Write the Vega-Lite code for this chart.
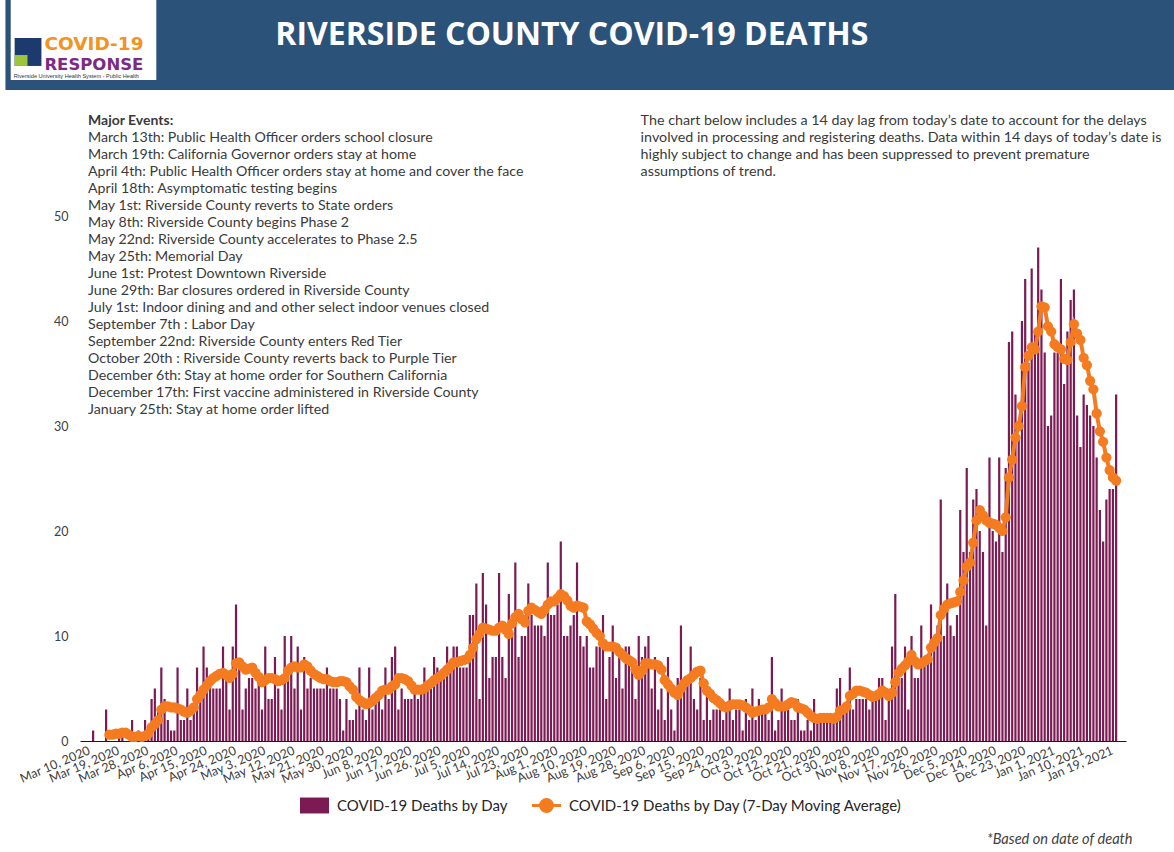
{
  "$schema": "https://vega.github.io/schema/vega-lite/v6.json",
  "width": 1046,
  "height": 651,
  "autosize": "none",
  "padding": {"left": 80, "top": 90, "right": 48, "bottom": 111},
  "background": "white",
  "config": {"view": {"stroke": null}, "font": "Lato", "text": {"font": "Lato"}},
  "data": {
    "values": [
      {"date":"2020-03-10","deaths":0,"avg":null},
      {"date":"2020-03-11","deaths":0,"avg":null},
      {"date":"2020-03-12","deaths":1,"avg":null},
      {"date":"2020-03-13","deaths":0,"avg":null},
      {"date":"2020-03-14","deaths":0,"avg":null},
      {"date":"2020-03-15","deaths":0,"avg":null},
      {"date":"2020-03-16","deaths":3,"avg":null},
      {"date":"2020-03-17","deaths":0,"avg":0.6},
      {"date":"2020-03-18","deaths":0,"avg":0.6},
      {"date":"2020-03-19","deaths":0,"avg":0.7},
      {"date":"2020-03-20","deaths":1,"avg":0.7},
      {"date":"2020-03-21","deaths":1,"avg":0.8},
      {"date":"2020-03-22","deaths":0,"avg":0.8},
      {"date":"2020-03-23","deaths":0,"avg":0.6},
      {"date":"2020-03-24","deaths":2,"avg":0.4},
      {"date":"2020-03-25","deaths":0,"avg":0.4},
      {"date":"2020-03-26","deaths":1,"avg":0.5},
      {"date":"2020-03-27","deaths":0,"avg":0.4},
      {"date":"2020-03-28","deaths":2,"avg":0.5},
      {"date":"2020-03-29","deaths":1,"avg":0.7},
      {"date":"2020-03-30","deaths":4,"avg":1.3},
      {"date":"2020-03-31","deaths":5,"avg":1.6},
      {"date":"2020-04-01","deaths":3,"avg":2.0},
      {"date":"2020-04-02","deaths":7,"avg":3.0},
      {"date":"2020-04-03","deaths":4,"avg":3.3},
      {"date":"2020-04-04","deaths":2,"avg":3.3},
      {"date":"2020-04-05","deaths":1,"avg":3.2},
      {"date":"2020-04-06","deaths":1,"avg":3.2},
      {"date":"2020-04-07","deaths":7,"avg":3.1},
      {"date":"2020-04-08","deaths":2,"avg":3.0},
      {"date":"2020-04-09","deaths":2,"avg":2.8},
      {"date":"2020-04-10","deaths":5,"avg":2.7},
      {"date":"2020-04-11","deaths":2,"avg":2.9},
      {"date":"2020-04-12","deaths":3,"avg":3.2},
      {"date":"2020-04-13","deaths":7,"avg":4.0},
      {"date":"2020-04-14","deaths":4,"avg":4.4},
      {"date":"2020-04-15","deaths":9,"avg":4.9},
      {"date":"2020-04-16","deaths":7,"avg":5.3},
      {"date":"2020-04-17","deaths":6,"avg":5.7},
      {"date":"2020-04-18","deaths":5,"avg":6.0},
      {"date":"2020-04-19","deaths":5,"avg":6.2},
      {"date":"2020-04-20","deaths":5,"avg":6.4},
      {"date":"2020-04-21","deaths":9,"avg":6.5},
      {"date":"2020-04-22","deaths":6,"avg":6.3},
      {"date":"2020-04-23","deaths":3,"avg":6.0},
      {"date":"2020-04-24","deaths":9,"avg":6.4},
      {"date":"2020-04-25","deaths":13,"avg":7.4},
      {"date":"2020-04-26","deaths":7,"avg":7.5},
      {"date":"2020-04-27","deaths":3,"avg":7.1},
      {"date":"2020-04-28","deaths":5,"avg":6.8},
      {"date":"2020-04-29","deaths":6,"avg":6.9},
      {"date":"2020-04-30","deaths":6,"avg":7.0},
      {"date":"2020-05-01","deaths":5,"avg":6.5},
      {"date":"2020-05-02","deaths":6,"avg":6.1},
      {"date":"2020-05-03","deaths":3,"avg":5.6},
      {"date":"2020-05-04","deaths":9,"avg":5.8},
      {"date":"2020-05-05","deaths":4,"avg":6.0},
      {"date":"2020-05-06","deaths":4,"avg":6.0},
      {"date":"2020-05-07","deaths":8,"avg":5.9},
      {"date":"2020-05-08","deaths":5,"avg":5.7},
      {"date":"2020-05-09","deaths":3,"avg":5.8},
      {"date":"2020-05-10","deaths":10,"avg":6.0},
      {"date":"2020-05-11","deaths":6,"avg":6.7},
      {"date":"2020-05-12","deaths":10,"avg":7.0},
      {"date":"2020-05-13","deaths":5,"avg":7.1},
      {"date":"2020-05-14","deaths":9,"avg":7.0},
      {"date":"2020-05-15","deaths":3,"avg":7.0},
      {"date":"2020-05-16","deaths":8,"avg":7.3},
      {"date":"2020-05-17","deaths":5,"avg":7.1},
      {"date":"2020-05-18","deaths":6,"avg":6.7},
      {"date":"2020-05-19","deaths":5,"avg":6.4},
      {"date":"2020-05-20","deaths":5,"avg":6.2},
      {"date":"2020-05-21","deaths":5,"avg":6.0},
      {"date":"2020-05-22","deaths":5,"avg":5.9},
      {"date":"2020-05-23","deaths":7,"avg":5.9},
      {"date":"2020-05-24","deaths":5,"avg":5.7},
      {"date":"2020-05-25","deaths":5,"avg":5.6},
      {"date":"2020-05-26","deaths":5,"avg":5.6},
      {"date":"2020-05-27","deaths":4,"avg":5.7},
      {"date":"2020-05-28","deaths":1,"avg":5.7},
      {"date":"2020-05-29","deaths":4,"avg":5.6},
      {"date":"2020-05-30","deaths":2,"avg":5.2},
      {"date":"2020-05-31","deaths":2,"avg":4.9},
      {"date":"2020-06-01","deaths":3,"avg":4.2},
      {"date":"2020-06-02","deaths":7,"avg":3.9},
      {"date":"2020-06-03","deaths":3,"avg":3.7},
      {"date":"2020-06-04","deaths":2,"avg":3.5},
      {"date":"2020-06-05","deaths":7,"avg":3.6},
      {"date":"2020-06-06","deaths":3,"avg":3.8},
      {"date":"2020-06-07","deaths":4,"avg":4.1},
      {"date":"2020-06-08","deaths":4,"avg":4.4},
      {"date":"2020-06-09","deaths":3,"avg":4.8},
      {"date":"2020-06-10","deaths":7,"avg":4.9},
      {"date":"2020-06-11","deaths":4,"avg":4.9},
      {"date":"2020-06-12","deaths":8,"avg":5.2},
      {"date":"2020-06-13","deaths":9,"avg":5.4},
      {"date":"2020-06-14","deaths":3,"avg":6.0},
      {"date":"2020-06-15","deaths":5,"avg":6.0},
      {"date":"2020-06-16","deaths":4,"avg":5.9},
      {"date":"2020-06-17","deaths":4,"avg":5.7},
      {"date":"2020-06-18","deaths":4,"avg":5.3},
      {"date":"2020-06-19","deaths":5,"avg":4.9},
      {"date":"2020-06-20","deaths":4,"avg":4.9},
      {"date":"2020-06-21","deaths":5,"avg":4.9},
      {"date":"2020-06-22","deaths":7,"avg":5.0},
      {"date":"2020-06-23","deaths":5,"avg":5.3},
      {"date":"2020-06-24","deaths":5,"avg":5.5},
      {"date":"2020-06-25","deaths":8,"avg":5.8},
      {"date":"2020-06-26","deaths":7,"avg":6.0},
      {"date":"2020-06-27","deaths":6,"avg":6.2},
      {"date":"2020-06-28","deaths":6,"avg":6.5},
      {"date":"2020-06-29","deaths":9,"avg":6.8},
      {"date":"2020-06-30","deaths":7,"avg":7.1},
      {"date":"2020-07-01","deaths":9,"avg":7.5},
      {"date":"2020-07-02","deaths":9,"avg":7.5},
      {"date":"2020-07-03","deaths":7,"avg":7.6},
      {"date":"2020-07-04","deaths":7,"avg":7.7},
      {"date":"2020-07-05","deaths":7,"avg":7.8},
      {"date":"2020-07-06","deaths":12,"avg":8.2},
      {"date":"2020-07-07","deaths":12,"avg":8.9},
      {"date":"2020-07-08","deaths":15,"avg":9.7},
      {"date":"2020-07-09","deaths":4,"avg":10.2},
      {"date":"2020-07-10","deaths":16,"avg":10.8},
      {"date":"2020-07-11","deaths":13,"avg":10.7},
      {"date":"2020-07-12","deaths":6,"avg":10.6},
      {"date":"2020-07-13","deaths":8,"avg":10.5},
      {"date":"2020-07-14","deaths":8,"avg":10.5},
      {"date":"2020-07-15","deaths":16,"avg":10.8},
      {"date":"2020-07-16","deaths":8,"avg":11.0},
      {"date":"2020-07-17","deaths":6,"avg":10.6},
      {"date":"2020-07-18","deaths":14,"avg":10.2},
      {"date":"2020-07-19","deaths":10,"avg":11.2},
      {"date":"2020-07-20","deaths":17,"avg":11.8},
      {"date":"2020-07-21","deaths":8,"avg":12.1},
      {"date":"2020-07-22","deaths":10,"avg":11.6},
      {"date":"2020-07-23","deaths":10,"avg":11.3},
      {"date":"2020-07-24","deaths":15,"avg":12.4},
      {"date":"2020-07-25","deaths":12,"avg":12.7},
      {"date":"2020-07-26","deaths":11,"avg":12.5},
      {"date":"2020-07-27","deaths":11,"avg":12.3},
      {"date":"2020-07-28","deaths":11,"avg":12.1},
      {"date":"2020-07-29","deaths":10,"avg":12.5},
      {"date":"2020-07-30","deaths":17,"avg":13.0},
      {"date":"2020-07-31","deaths":12,"avg":13.3},
      {"date":"2020-08-01","deaths":12,"avg":13.3},
      {"date":"2020-08-02","deaths":13,"avg":13.6},
      {"date":"2020-08-03","deaths":19,"avg":14.0},
      {"date":"2020-08-04","deaths":10,"avg":13.8},
      {"date":"2020-08-05","deaths":10,"avg":13.4},
      {"date":"2020-08-06","deaths":11,"avg":12.9},
      {"date":"2020-08-07","deaths":12,"avg":12.7},
      {"date":"2020-08-08","deaths":17,"avg":12.9},
      {"date":"2020-08-09","deaths":10,"avg":12.8},
      {"date":"2020-08-10","deaths":9,"avg":12.7},
      {"date":"2020-08-11","deaths":10,"avg":11.4},
      {"date":"2020-08-12","deaths":7,"avg":11.1},
      {"date":"2020-08-13","deaths":7,"avg":10.7},
      {"date":"2020-08-14","deaths":9,"avg":10.3},
      {"date":"2020-08-15","deaths":9,"avg":10.0},
      {"date":"2020-08-16","deaths":12,"avg":9.3},
      {"date":"2020-08-17","deaths":4,"avg":9.0},
      {"date":"2020-08-18","deaths":8,"avg":9.0},
      {"date":"2020-08-19","deaths":11,"avg":9.0},
      {"date":"2020-08-20","deaths":6,"avg":8.9},
      {"date":"2020-08-21","deaths":8,"avg":8.5},
      {"date":"2020-08-22","deaths":5,"avg":8.2},
      {"date":"2020-08-23","deaths":9,"avg":7.9},
      {"date":"2020-08-24","deaths":9,"avg":7.7},
      {"date":"2020-08-25","deaths":8,"avg":7.5},
      {"date":"2020-08-26","deaths":4,"avg":6.8},
      {"date":"2020-08-27","deaths":10,"avg":6.3},
      {"date":"2020-08-28","deaths":8,"avg":6.7},
      {"date":"2020-08-29","deaths":9,"avg":7.4},
      {"date":"2020-08-30","deaths":10,"avg":7.4},
      {"date":"2020-08-31","deaths":5,"avg":7.3},
      {"date":"2020-09-01","deaths":8,"avg":7.3},
      {"date":"2020-09-02","deaths":3,"avg":7.2},
      {"date":"2020-09-03","deaths":5,"avg":6.8},
      {"date":"2020-09-04","deaths":2,"avg":5.8},
      {"date":"2020-09-05","deaths":8,"avg":5.4},
      {"date":"2020-09-06","deaths":3,"avg":5.0},
      {"date":"2020-09-07","deaths":1,"avg":4.6},
      {"date":"2020-09-08","deaths":6,"avg":4.4},
      {"date":"2020-09-09","deaths":11,"avg":5.0},
      {"date":"2020-09-10","deaths":5,"avg":5.5},
      {"date":"2020-09-11","deaths":6,"avg":5.8},
      {"date":"2020-09-12","deaths":9,"avg":6.0},
      {"date":"2020-09-13","deaths":4,"avg":6.3},
      {"date":"2020-09-14","deaths":3,"avg":6.6},
      {"date":"2020-09-15","deaths":6,"avg":6.7},
      {"date":"2020-09-16","deaths":2,"avg":5.5},
      {"date":"2020-09-17","deaths":5,"avg":4.8},
      {"date":"2020-09-18","deaths":2,"avg":4.5},
      {"date":"2020-09-19","deaths":3,"avg":4.1},
      {"date":"2020-09-20","deaths":3,"avg":3.9},
      {"date":"2020-09-21","deaths":3,"avg":3.6},
      {"date":"2020-09-22","deaths":2,"avg":3.3},
      {"date":"2020-09-23","deaths":3,"avg":3.2},
      {"date":"2020-09-24","deaths":5,"avg":3.4},
      {"date":"2020-09-25","deaths":2,"avg":3.5},
      {"date":"2020-09-26","deaths":3,"avg":3.5},
      {"date":"2020-09-27","deaths":3,"avg":3.5},
      {"date":"2020-09-28","deaths":1,"avg":3.4},
      {"date":"2020-09-29","deaths":4,"avg":3.2},
      {"date":"2020-09-30","deaths":2,"avg":3.0},
      {"date":"2020-10-01","deaths":5,"avg":2.7},
      {"date":"2020-10-02","deaths":2,"avg":2.8},
      {"date":"2020-10-03","deaths":4,"avg":2.9},
      {"date":"2020-10-04","deaths":3,"avg":3.0},
      {"date":"2020-10-05","deaths":3,"avg":3.0},
      {"date":"2020-10-06","deaths":2,"avg":3.2},
      {"date":"2020-10-07","deaths":8,"avg":4.0},
      {"date":"2020-10-08","deaths":1,"avg":3.6},
      {"date":"2020-10-09","deaths":2,"avg":3.3},
      {"date":"2020-10-10","deaths":5,"avg":3.3},
      {"date":"2020-10-11","deaths":3,"avg":3.3},
      {"date":"2020-10-12","deaths":3,"avg":3.5},
      {"date":"2020-10-13","deaths":2,"avg":3.7},
      {"date":"2020-10-14","deaths":2,"avg":3.6},
      {"date":"2020-10-15","deaths":4,"avg":3.2},
      {"date":"2020-10-16","deaths":1,"avg":3.1},
      {"date":"2020-10-17","deaths":1,"avg":3.0},
      {"date":"2020-10-18","deaths":2,"avg":2.7},
      {"date":"2020-10-19","deaths":1,"avg":2.4},
      {"date":"2020-10-20","deaths":4,"avg":2.2},
      {"date":"2020-10-21","deaths":2,"avg":2.1},
      {"date":"2020-10-22","deaths":2,"avg":2.2},
      {"date":"2020-10-23","deaths":2,"avg":2.2},
      {"date":"2020-10-24","deaths":2,"avg":2.2},
      {"date":"2020-10-25","deaths":2,"avg":2.2},
      {"date":"2020-10-26","deaths":2,"avg":2.1},
      {"date":"2020-10-27","deaths":5,"avg":2.3},
      {"date":"2020-10-28","deaths":6,"avg":2.9},
      {"date":"2020-10-29","deaths":3,"avg":3.0},
      {"date":"2020-10-30","deaths":3,"avg":3.3},
      {"date":"2020-10-31","deaths":7,"avg":4.3},
      {"date":"2020-11-01","deaths":3,"avg":4.5},
      {"date":"2020-11-02","deaths":4,"avg":4.8},
      {"date":"2020-11-03","deaths":4,"avg":4.8},
      {"date":"2020-11-04","deaths":4,"avg":4.7},
      {"date":"2020-11-05","deaths":4,"avg":4.6},
      {"date":"2020-11-06","deaths":3,"avg":4.4},
      {"date":"2020-11-07","deaths":4,"avg":4.2},
      {"date":"2020-11-08","deaths":4,"avg":4.3},
      {"date":"2020-11-09","deaths":6,"avg":4.5},
      {"date":"2020-11-10","deaths":6,"avg":4.8},
      {"date":"2020-11-11","deaths":2,"avg":4.6},
      {"date":"2020-11-12","deaths":4,"avg":4.3},
      {"date":"2020-11-13","deaths":9,"avg":4.6},
      {"date":"2020-11-14","deaths":14,"avg":5.6},
      {"date":"2020-11-15","deaths":6,"avg":6.5},
      {"date":"2020-11-16","deaths":6,"avg":6.9},
      {"date":"2020-11-17","deaths":9,"avg":7.2},
      {"date":"2020-11-18","deaths":3,"avg":7.6},
      {"date":"2020-11-19","deaths":10,"avg":8.2},
      {"date":"2020-11-20","deaths":6,"avg":7.6},
      {"date":"2020-11-21","deaths":6,"avg":7.3},
      {"date":"2020-11-22","deaths":11,"avg":7.4},
      {"date":"2020-11-23","deaths":8,"avg":7.6},
      {"date":"2020-11-24","deaths":8,"avg":7.8},
      {"date":"2020-11-25","deaths":13,"avg":8.9},
      {"date":"2020-11-26","deaths":9,"avg":9.4},
      {"date":"2020-11-27","deaths":11,"avg":9.8},
      {"date":"2020-11-28","deaths":23,"avg":12.0},
      {"date":"2020-11-29","deaths":10,"avg":12.6},
      {"date":"2020-11-30","deaths":15,"avg":13.0},
      {"date":"2020-12-01","deaths":11,"avg":13.1},
      {"date":"2020-12-02","deaths":10,"avg":13.2},
      {"date":"2020-12-03","deaths":12,"avg":13.3},
      {"date":"2020-12-04","deaths":22,"avg":14.2},
      {"date":"2020-12-05","deaths":18,"avg":15.3},
      {"date":"2020-12-06","deaths":26,"avg":16.6},
      {"date":"2020-12-07","deaths":18,"avg":17.0},
      {"date":"2020-12-08","deaths":23,"avg":18.9},
      {"date":"2020-12-09","deaths":24,"avg":21.0},
      {"date":"2020-12-10","deaths":20,"avg":22.0},
      {"date":"2020-12-11","deaths":18,"avg":21.5},
      {"date":"2020-12-12","deaths":11,"avg":21.0},
      {"date":"2020-12-13","deaths":27,"avg":20.8},
      {"date":"2020-12-14","deaths":20,"avg":20.7},
      {"date":"2020-12-15","deaths":19,"avg":20.6},
      {"date":"2020-12-16","deaths":27,"avg":20.3},
      {"date":"2020-12-17","deaths":18,"avg":20.0},
      {"date":"2020-12-18","deaths":26,"avg":21.3},
      {"date":"2020-12-19","deaths":38,"avg":25.1},
      {"date":"2020-12-20","deaths":39,"avg":26.8},
      {"date":"2020-12-21","deaths":33,"avg":28.9},
      {"date":"2020-12-22","deaths":29,"avg":30.0},
      {"date":"2020-12-23","deaths":40,"avg":31.9},
      {"date":"2020-12-24","deaths":44,"avg":35.6},
      {"date":"2020-12-25","deaths":36,"avg":36.7},
      {"date":"2020-12-26","deaths":45,"avg":37.5},
      {"date":"2020-12-27","deaths":39,"avg":37.3},
      {"date":"2020-12-28","deaths":47,"avg":39.0},
      {"date":"2020-12-29","deaths":43,"avg":41.4},
      {"date":"2020-12-30","deaths":37,"avg":41.3},
      {"date":"2020-12-31","deaths":30,"avg":39.5},
      {"date":"2021-01-01","deaths":31,"avg":39.0},
      {"date":"2021-01-02","deaths":37,"avg":37.8},
      {"date":"2021-01-03","deaths":37,"avg":37.5},
      {"date":"2021-01-04","deaths":44,"avg":37.3},
      {"date":"2021-01-05","deaths":34,"avg":36.4},
      {"date":"2021-01-06","deaths":39,"avg":36.3},
      {"date":"2021-01-07","deaths":42,"avg":38.0},
      {"date":"2021-01-08","deaths":43,"avg":39.7},
      {"date":"2021-01-09","deaths":31,"avg":38.8},
      {"date":"2021-01-10","deaths":28,"avg":38.2},
      {"date":"2021-01-11","deaths":33,"avg":36.5},
      {"date":"2021-01-12","deaths":32,"avg":35.8},
      {"date":"2021-01-13","deaths":31,"avg":34.3},
      {"date":"2021-01-14","deaths":30,"avg":33.5},
      {"date":"2021-01-15","deaths":27,"avg":31.2},
      {"date":"2021-01-16","deaths":22,"avg":29.5},
      {"date":"2021-01-17","deaths":19,"avg":28.5},
      {"date":"2021-01-18","deaths":23,"avg":27.0},
      {"date":"2021-01-19","deaths":24,"avg":25.8},
      {"date":"2021-01-20","deaths":24,"avg":25.1},
      {"date":"2021-01-21","deaths":33,"avg":24.8}
    ]
  },
  "encoding": {
    "x": {
      "type": "temporal",
      "scale": {"type": "utc", "domain": [{"year": 2020, "month": 3, "date": 9, "hours": 12, "utc": true}, {"year": 2021, "month": 1, "date": 22, "hours": 12, "utc": true}]},
      "axis": {
        "values": [
          {"year": 2020, "month": 3, "date": 10, "utc": true},
          {"year": 2020, "month": 3, "date": 19, "utc": true},
          {"year": 2020, "month": 3, "date": 28, "utc": true},
          {"year": 2020, "month": 4, "date": 6, "utc": true},
          {"year": 2020, "month": 4, "date": 15, "utc": true},
          {"year": 2020, "month": 4, "date": 24, "utc": true},
          {"year": 2020, "month": 5, "date": 3, "utc": true},
          {"year": 2020, "month": 5, "date": 12, "utc": true},
          {"year": 2020, "month": 5, "date": 21, "utc": true},
          {"year": 2020, "month": 5, "date": 30, "utc": true},
          {"year": 2020, "month": 6, "date": 8, "utc": true},
          {"year": 2020, "month": 6, "date": 17, "utc": true},
          {"year": 2020, "month": 6, "date": 26, "utc": true},
          {"year": 2020, "month": 7, "date": 5, "utc": true},
          {"year": 2020, "month": 7, "date": 14, "utc": true},
          {"year": 2020, "month": 7, "date": 23, "utc": true},
          {"year": 2020, "month": 8, "date": 1, "utc": true},
          {"year": 2020, "month": 8, "date": 10, "utc": true},
          {"year": 2020, "month": 8, "date": 19, "utc": true},
          {"year": 2020, "month": 8, "date": 28, "utc": true},
          {"year": 2020, "month": 9, "date": 6, "utc": true},
          {"year": 2020, "month": 9, "date": 15, "utc": true},
          {"year": 2020, "month": 9, "date": 24, "utc": true},
          {"year": 2020, "month": 10, "date": 3, "utc": true},
          {"year": 2020, "month": 10, "date": 12, "utc": true},
          {"year": 2020, "month": 10, "date": 21, "utc": true},
          {"year": 2020, "month": 10, "date": 30, "utc": true},
          {"year": 2020, "month": 11, "date": 8, "utc": true},
          {"year": 2020, "month": 11, "date": 17, "utc": true},
          {"year": 2020, "month": 11, "date": 26, "utc": true},
          {"year": 2020, "month": 12, "date": 5, "utc": true},
          {"year": 2020, "month": 12, "date": 14, "utc": true},
          {"year": 2020, "month": 12, "date": 23, "utc": true},
          {"year": 2021, "month": 1, "date": 1, "utc": true},
          {"year": 2021, "month": 1, "date": 10, "utc": true},
          {"year": 2021, "month": 1, "date": 19, "utc": true}
        ],
        "format": "%b %-d, %Y",
        "labelAngle": -23,
        "labelAlign": "right",
        "labelBaseline": "top",
        "labelPadding": 3,
        "labelFont": "Lato",
        "labelFontSize": 12.5,
        "labelColor": "#404040",
        "labelOverlap": false,
        "labelFlush": false,
        "labelBound": false,
        "labelSeparation": 0,
        "ticks": false,
        "tickSize": 0,
        "grid": false,
        "domainColor": "#1a1a1a",
        "domainWidth": 1.2,
        "title": "*Based on date of death",
        "titleFont": "Lato",
        "titleFontStyle": "italic",
        "titleFontWeight": "normal",
        "titleFontSize": 14.6,
        "titleColor": "#404040",
        "titleX": 1052,
        "titleY": 102,
        "titleAlign": "right",
        "titleBaseline": "alphabetic"
      }
    },
    "y": {
      "type": "quantitative",
      "scale": {"domain": [0, 62], "nice": false},
      "axis": {"values": [0, 10, 20, 30, 40, 50], "title": null, "domain": false, "ticks": false, "tickSize": 0, "grid": false, "labelPadding": 12, "labelFont": "Lato", "labelFontSize": 12.5, "labelColor": "#404040"}
    }
  },
  "layer": [
    {
      "data": {"values": [{}]},
      "mark": {"type": "rect", "fill": "#2b5279"},
      "encoding": {
        "x": {"datum": {"year": 2020, "month": 2, "date": 14, "utc": true}},
        "x2": {"datum": {"year": 2021, "month": 2, "date": 8, "utc": true}},
        "y": {"datum": 62},
        "y2": {"datum": 71}
      }
    },
    {
      "data": {"values": [{}]},
      "mark": {"type": "rect", "fill": "#ffffff"},
      "encoding": {
        "x": {"datum": {"year": 2020, "month": 2, "date": 15, "hours": 15, "utc": true}},
        "x2": {"datum": {"year": 2020, "month": 3, "date": 31, "hours": 11, "utc": true}},
        "y": {"datum": 62.95},
        "y2": {"datum": 71}
      }
    },
    {
      "data": {"values": [{}]},
      "mark": {"type": "rect", "fill": "#1d3a6e"},
      "encoding": {
        "x": {"datum": {"year": 2020, "month": 2, "date": 16, "hours": 20, "utc": true}},
        "x2": {"datum": {"year": 2020, "month": 2, "date": 25, "hours": 2, "utc": true}},
        "y": {"datum": 64.29},
        "y2": {"datum": 66.95}
      }
    },
    {
      "data": {"values": [{}]},
      "mark": {"type": "rect", "fill": "#9cc43c"},
      "encoding": {
        "x": {"datum": {"year": 2020, "month": 2, "date": 16, "hours": 20, "utc": true}},
        "x2": {"datum": {"year": 2020, "month": 2, "date": 20, "hours": 19, "utc": true}},
        "y": {"datum": 64.29},
        "y2": {"datum": 65.33}
      }
    },
    {
      "data": {"values": [{}]},
      "mark": {"type": "text", "font": "DejaVu Sans", "fontWeight": "bold", "fontSize": 18.5, "color": "#f39320", "align": "left", "baseline": "alphabetic"},
      "encoding": {
        "x": {"datum": {"year": 2020, "month": 2, "date": 26, "utc": true}},
        "y": {"datum": 65.81},
        "text": {"value": "COVID-19"}
      }
    },
    {
      "data": {"values": [{}]},
      "mark": {"type": "text", "font": "DejaVu Sans", "fontWeight": "bold", "fontSize": 16.5, "color": "#7b2b86", "align": "left", "baseline": "alphabetic"},
      "encoding": {
        "x": {"datum": {"year": 2020, "month": 2, "date": 26, "utc": true}},
        "y": {"datum": 63.9},
        "text": {"value": "RESPONSE"}
      }
    },
    {
      "data": {"values": [{}]},
      "mark": {"type": "text", "font": "Liberation Sans", "fontSize": 5.6, "color": "#333333", "align": "left", "baseline": "alphabetic"},
      "encoding": {
        "x": {"datum": {"year": 2020, "month": 2, "date": 16, "hours": 13, "utc": true}},
        "y": {"datum": 63.1},
        "text": {"value": "Riverside University Health System - Public Health"}
      }
    },
    {
      "data": {"values": [{}]},
      "mark": {"type": "text", "font": "Open Sans", "fontWeight": "bold", "fontSize": 32, "color": "#ffffff", "align": "center", "baseline": "alphabetic"},
      "encoding": {
        "x": {"datum": {"year": 2020, "month": 8, "date": 6, "hours": 9, "minutes": 26, "utc": true}},
        "y": {"datum": 66.29},
        "text": {"value": "RIVERSIDE COUNTY COVID-19 DEATHS"}
      }
    },
    {
      "mark": {"type": "bar", "width": 2.2},
      "encoding": {
        "x": {"field": "date"},
        "y": {"field": "deaths"},
        "color": {
          "datum": "COVID-19 Deaths by Day",
          "type": "nominal",
          "scale": {"domain": ["COVID-19 Deaths by Day", "COVID-19 Deaths by Day (7-Day Moving Average)"], "range": ["#7b1a53", "#f47b20"]},
          "legend": {
            "orient": "none",
            "legendX": 227,
            "legendY": 708,
            "direction": "horizontal",
            "title": null,
            "padding": 0,
            "labelFont": "Lato",
            "labelFontSize": 15,
            "labelColor": "#262626",
            "labelLimit": 500,
            "labelOffset": 15,
            "columnPadding": 18,
            "gridAlign": "none",
            "symbolSize": 841,
            "encode": {
              "symbols": {
                "update": {
                  "shape": {"signal": "datum.value === 'COVID-19 Deaths by Day' ? 'M-1,-0.55H1V0.55H-1Z' : 'M-1,0H1M-0.41,0A0.41,0.41,0,1,0,0.41,0A0.41,0.41,0,1,0,-0.41,0Z'"},
                  "fill": {"signal": "datum.value === 'COVID-19 Deaths by Day' ? '#7b1a53' : '#f47b20'"},
                  "stroke": {"signal": "datum.value === 'COVID-19 Deaths by Day' ? '#7b1a53' : '#f47b20'"},
                  "strokeWidth": {"signal": "datum.value === 'COVID-19 Deaths by Day' ? 0 : 3"},
                  "opacity": {"value": 1},
                  "fillOpacity": {"value": 1},
                  "size": {"value": 841}
                }
              }
            }
          }
        }
      }
    },
    {
      "mark": {"type": "line", "strokeWidth": 4, "point": {"filled": true, "size": 105, "opacity": 1}},
      "encoding": {
        "x": {"field": "date"},
        "y": {"field": "avg"},
        "color": {"datum": "COVID-19 Deaths by Day (7-Day Moving Average)", "type": "nominal"}
      }
    },
    {
      "data": {"values": [{}]},
      "mark": {"type": "text", "font": "Lato", "fontWeight": "bold", "fontSize": 14, "color": "#3a3a3a", "align": "left", "baseline": "top"},
      "encoding": {
        "x": {"datum": {"year": 2020, "month": 3, "date": 10, "hours": 10, "utc": true}},
        "y": {"datum": 59.7},
        "text": {"value": "Major Events:"}
      }
    },
    {
      "data": {"values": [{}]},
      "mark": {"type": "text", "font": "Lato", "fontSize": 14.2, "color": "#3a3a3a", "align": "left", "baseline": "top", "lineHeight": 17},
      "encoding": {
        "x": {"datum": {"year": 2020, "month": 3, "date": 10, "hours": 10, "utc": true}},
        "y": {"datum": 58.1},
        "text": {"value": [
          "March 13th: Public Health Officer orders school closure",
          "March 19th: California Governor orders stay at home",
          "April 4th: Public Health Officer orders stay at home and cover the face",
          "April 18th: Asymptomatic testing begins",
          "May 1st: Riverside County reverts to State orders",
          "May 8th: Riverside County begins Phase 2",
          "May 22nd: Riverside County accelerates to Phase 2.5",
          "May 25th: Memorial Day",
          "June 1st: Protest Downtown Riverside",
          "June 29th: Bar closures ordered in Riverside County",
          "July 1st: Indoor dining and and other select indoor venues closed",
          "September 7th : Labor Day",
          "September 22nd: Riverside County enters Red Tier",
          "October 20th : Riverside County reverts back to Purple Tier",
          "December 6th: Stay at home order for Southern California",
          "December 17th: First vaccine administered in Riverside County",
          "January 25th: Stay at home order lifted"
        ]}
      }
    },
    {
      "data": {"values": [{}]},
      "mark": {"type": "text", "font": "Lato", "fontSize": 14.3, "color": "#3a3a3a", "align": "left", "baseline": "top", "lineHeight": 17},
      "encoding": {
        "x": {"datum": {"year": 2020, "month": 8, "date": 27, "hours": 14, "utc": true}},
        "y": {"datum": 59.7},
        "text": {"value": [
          "The chart below includes a 14 day lag from today’s date to account for the delays",
          "involved in processing and registering deaths. Data within 14 days of today’s date is",
          "highly subject to change and has been suppressed to prevent premature",
          "assumptions of trend."
        ]}
      }
    }
  ]
}
